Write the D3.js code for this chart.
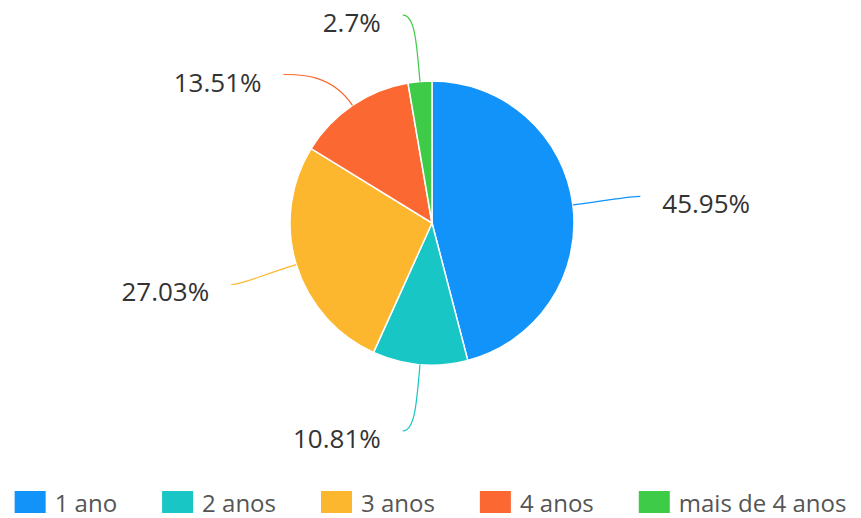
<!DOCTYPE html>
<html>
<head>
<meta charset="utf-8">
<script src="https://d3js.org/d3.v7.min.js"></script>
<style>
  body { margin: 0; background: #fff; }
  text { font-family: "Open Sans", "Noto Sans", sans-serif; }
</style>
</head>
<body>
<div id="vis"></div>
<script>
// data
var categories = ["1 ano", "2 anos", "3 anos", "4 anos", "mais de 4 anos"];
var counts = [17, 4, 10, 5, 1];
var colors = ["#1193fa", "#18c6c6", "#fcb72e", "#fc6831", "#3ecb47"];

var width = 861, height = 518;
var cx = 432, cy = 223, radius = 142;
var labelR = 210;

var svg = d3.select("#vis").append("svg")
  .attr("width", width)
  .attr("height", height);

var total = d3.sum(counts);
var pie = d3.pie().sort(null).value(function(d){ return d; });
var arcs = pie(counts);
var arc = d3.arc().innerRadius(0).outerRadius(radius);

var g = svg.append("g").attr("transform", "translate(" + cx + "," + cy + ")");

g.selectAll("path.slice")
  .data(arcs)
  .enter().append("path")
  .attr("class", "slice")
  .attr("d", arc)
  .attr("fill", function(d, i){ return colors[i]; })
  .attr("stroke", "#fff")
  .attr("stroke-width", 1.5);

// label angles, pushed apart so they don't collide
var deg = Math.PI / 180;
var minSep = 37 * deg, minVert = 8 * deg;
var labs = arcs.map(function(a, i){
  var mid = (a.startAngle + a.endAngle) / 2;
  return {i: i, mid: mid, ang: mid, right: mid < Math.PI};
});
[true, false].forEach(function(side){
  var s = labs.filter(function(l){ return l.right === side; });
  var lo = side ? minVert : Math.PI + minVert;
  var hi = side ? Math.PI - minVert : 2 * Math.PI - minVert;
  // from the top down
  if (side) s.sort(function(a, b){ return a.ang - b.ang; });
  else s.sort(function(a, b){ return b.ang - a.ang; });
  s.forEach(function(l, k){
    if (side) { l.ang = Math.max(l.ang, lo); if (k) l.ang = Math.max(l.ang, s[k-1].ang + minSep); }
    else { l.ang = Math.min(l.ang, hi); if (k) l.ang = Math.min(l.ang, s[k-1].ang - minSep); }
  });
  for (var k = s.length - 1; k >= 0; k--) {
    var l = s[k];
    if (side) { l.ang = Math.min(l.ang, hi); if (k < s.length - 1) l.ang = Math.min(l.ang, s[k+1].ang - minSep); }
    else { l.ang = Math.max(l.ang, lo); if (k < s.length - 1) l.ang = Math.max(l.ang, s[k+1].ang + minSep); }
  }
});

function pt(r, a){ return [r * Math.sin(a), -r * Math.cos(a)]; }

labs.forEach(function(l){
  var A = pt(radius, l.mid);
  var C1 = pt(182, l.mid);
  var E = pt(labelR, l.ang);
  var dir = l.right ? 1 : -1;
  var C2 = [E[0] - dir * 12, E[1]];
  var p = d3.path();
  p.moveTo(A[0], A[1]);
  p.bezierCurveTo(C1[0], C1[1], C2[0], C2[1], E[0], E[1]);
  g.append("path")
    .attr("d", p.toString())
    .attr("fill", "none")
    .attr("stroke", colors[l.i])
    .attr("stroke-width", 1.2);
  var pct = +(counts[l.i] / total * 100).toFixed(2);
  g.append("text")
    .attr("x", E[0] + dir * 22)
    .attr("y", E[1] + 7)
    .attr("dominant-baseline", "central")
    .attr("text-anchor", l.right ? "start" : "end")
    .attr("font-size", 26)
    .attr("fill", "#333")
    .text(pct + "%");
});

// legend
var legend = svg.append("g");
var items = legend.selectAll("g.item")
  .data(categories)
  .enter().append("g")
  .attr("class", "item");
items.append("rect")
  .attr("width", 31).attr("height", 22)
  .attr("y", -11)
  .attr("fill", function(d, i){ return colors[i]; });
items.append("text")
  .attr("x", 40)
  .attr("dominant-baseline", "central")
  .attr("font-size", 24)
  .attr("fill", "#555")
  .text(function(d){ return d; });

var xpos = 0, gap = 45;
items.each(function(){
  var w = this.getBBox().width;
  d3.select(this).attr("transform", "translate(" + xpos + ",0)");
  xpos += w + gap;
});
var legW = xpos - gap;
legend.attr("transform", "translate(" + ((width - legW) / 2) + ",502)");
</script>
</body>
</html>
